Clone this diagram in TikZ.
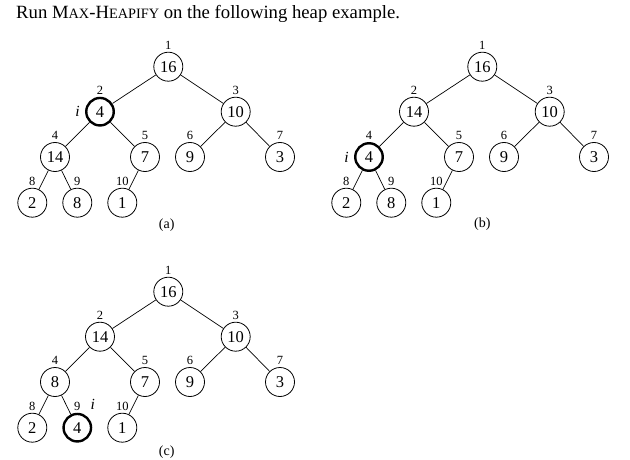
\documentclass[tikz,border=0pt]{standalone}
\usepackage{fontspec}
\setmainfont{Liberation Serif}
\begin{document}
\begin{tikzpicture}[x=1pt,y=-1pt,
  hn/.style={circle,draw,line width=0.8pt,minimum size=29pt,inner sep=0pt,font=\fontsize{16.5}{16.5}\selectfont},
  hs/.style={hn,line width=2.4pt,minimum size=27.5pt},
  idx/.style={font=\fontsize{12.5}{12.5}\selectfont,inner sep=0pt,label distance=2pt},
  lnk/.style={line width=0.7pt},
  subcap/.style={font=\fontsize{14}{14}\selectfont,inner sep=0pt},
  ilab/.style={font=\fontsize{15.5}{15.5}\selectfont\itshape,inner sep=0pt}]
\useasboundingbox (0,0) rectangle (630,460);
\node[anchor=base west,inner sep=0pt,font=\fontsize{18.7}{18.7}\selectfont] (title) at (16,19)
  {Run M{\fontsize{14.3}{14.3}\selectfont AX}-H{\fontsize{14.3}{14.3}\selectfont EAPIFY} on the following heap example.};
% ---------- (a) ----------
\begin{scope}
\node[hn,label={[idx]above:1}]  (a1)  at (168.3,66.7) {16};
\node[hs,label={[idx]above:2}]  (a2)  at (100,111.7) {4};
\node[hn,label={[idx]above:3}]  (a3)  at (235.7,111.7) {10};
\node[hn,label={[idx]above:4}]  (a4)  at (55,157) {14};
\node[hn,label={[idx]above:5}]  (a5)  at (145,157) {7};
\node[hn,label={[idx]above:6}]  (a6)  at (190,157) {9};
\node[hn,label={[idx]above:7}]  (a7)  at (280,157) {3};
\node[hn,label={[idx]above:8}]  (a8)  at (32.3,202.7) {2};
\node[hn,label={[idx]above:9}]  (a9)  at (77.3,202.7) {8};
\node[hn,label={[idx]above:10}] (a10) at (122.3,202.7) {1};
\node[ilab] (ai) at (77.5,111.7) {i};
\node[subcap] (acap) at (166.7,225) {(a)};
\draw[lnk] (a1)--(a2) (a1)--(a3) (a2)--(a4) (a2)--(a5) (a3)--(a6) (a3)--(a7)
  (a4)--(a8) (a4)--(a9) (a5)--(a10);
\end{scope}
% ---------- (b) ----------
\begin{scope}[xshift=314pt]
\node[hn,label={[idx]above:1}]  (b1)  at (168.3,66.7) {16};
\node[hn,label={[idx]above:2}]  (b2)  at (100,111.7) {14};
\node[hn,label={[idx]above:3}]  (b3)  at (235.7,111.7) {10};
\node[hs,label={[idx]above:4}]  (b4)  at (55,157) {4};
\node[hn,label={[idx]above:5}]  (b5)  at (145,157) {7};
\node[hn,label={[idx]above:6}]  (b6)  at (190,157) {9};
\node[hn,label={[idx]above:7}]  (b7)  at (280,157) {3};
\node[hn,label={[idx]above:8}]  (b8)  at (32.3,202.7) {2};
\node[hn,label={[idx]above:9}]  (b9)  at (77.3,202.7) {8};
\node[hn,label={[idx]above:10}] (b10) at (122.3,202.7) {1};
\node[ilab] (bi) at (32.5,157) {i};
\node[subcap] (bcap) at (168.3,224) {(b)};
\draw[lnk] (b1)--(b2) (b1)--(b3) (b2)--(b4) (b2)--(b5) (b3)--(b6) (b3)--(b7)
  (b4)--(b8) (b4)--(b9) (b5)--(b10);
\end{scope}
% ---------- (c) ----------
\begin{scope}[yshift=-225pt]
\node[hn,label={[idx]above:1}]  (c1)  at (168.3,66.7) {16};
\node[hn,label={[idx]above:2}]  (c2)  at (100,111.7) {14};
\node[hn,label={[idx]above:3}]  (c3)  at (235.7,111.7) {10};
\node[hn,label={[idx]above:4}]  (c4)  at (55,157) {8};
\node[hn,label={[idx]above:5}]  (c5)  at (145,157) {7};
\node[hn,label={[idx]above:6}]  (c6)  at (190,157) {9};
\node[hn,label={[idx]above:7}]  (c7)  at (280,157) {3};
\node[hn,label={[idx]above:8}]  (c8)  at (32.3,202.7) {2};
\node[hs,label={[idx]above:9}]  (c9)  at (77.3,202.7) {4};
\node[hn,label={[idx]above:10}] (c10) at (122.3,202.7) {1};
\node[ilab] (ci) at (92.7,179) {i};
\node[subcap] (ccap) at (166.7,226.7) {(c)};
\draw[lnk] (c1)--(c2) (c1)--(c3) (c2)--(c4) (c2)--(c5) (c3)--(c6) (c3)--(c7)
  (c4)--(c8) (c4)--(c9) (c5)--(c10);
\end{scope}
\end{tikzpicture}
\end{document}
